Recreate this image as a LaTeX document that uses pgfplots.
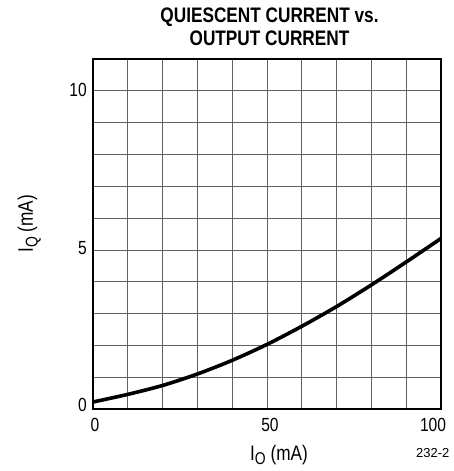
\documentclass[border=0pt]{standalone}
\usepackage{fontspec}
\setmainfont[FakeStretch=0.82]{Liberation Sans}
\newfontfamily\plainfont{Liberation Sans}
\usepackage{pgfplots}
\pgfplotsset{compat=1.18}

\newcommand{\sub}[1]{\raisebox{-0.42ex}{\fontsize{17}{19}\selectfont #1}}

\begin{document}
\begin{tikzpicture}[tick/.style={inner sep=0, font=\fontsize{19}{22}\selectfont}]
\begin{axis}[
    scale only axis,
    width=348pt, height=350pt,
    xmin=0, xmax=100, ymin=0, ymax=11,
    xtick={0,50,100}, ytick={0,5,10},
    xticklabels={}, yticklabels={},
    minor xtick={10,20,30,40,60,70,80,90},
    minor ytick={1,2,3,4,6,7,8,9},
    grid=both,
    major grid style={line width=0.8pt, draw=black!62},
    minor grid style={line width=0.8pt, draw=black!62},
    major tick length=0pt, minor tick length=0pt,
    axis line style={line width=2.6pt},
    clip=false,
]
\addplot[black, line width=3.6pt, smooth] coordinates {
    (0,0.22) (10,0.46) (20,0.74) (30,1.10) (40,1.53) (50,2.03)
    (60,2.60) (70,3.22) (80,3.90) (90,4.62) (100,5.36)
};
% x tick labels
\node[tick, anchor=north] at ([xshift=2pt, yshift=-9pt]axis cs:0,0) {0};
\node[tick, anchor=north] at ([xshift=3pt, yshift=-9pt]axis cs:50,0) {50};
\node[tick, anchor=north] at ([xshift=-8pt, yshift=-9pt]axis cs:100,0) {100};
% y tick labels
\node[tick, anchor=east] at ([xshift=-6pt, yshift=4pt]axis cs:0,0) {0};
\node[tick, anchor=east] at ([xshift=-6pt, yshift=2pt]axis cs:0,5) {5};
\node[tick, anchor=east] at ([xshift=-6pt, yshift=1pt]axis cs:0,10) {10};
% axis labels
\node[anchor=base, inner sep=0, font=\fontsize{21}{24}\selectfont]
    at ([xshift=12pt, yshift=-51pt]rel axis cs:0.5,0) {I\sub{O} (mA)};
\node[rotate=90, anchor=base, inner sep=0, font=\fontsize{21}{24}\selectfont]
    at ([xshift=-60pt]rel axis cs:0,0.529) {I\sub{Q} (mA)};
% title
\node[anchor=base, inner sep=0, font=\bfseries\fontsize{21}{24}\selectfont]
    at ([xshift=2.5pt, yshift=36pt]rel axis cs:0.5,1) {QUIESCENT CURRENT vs.};
\node[anchor=base, inner sep=0, font=\bfseries\fontsize{21}{24}\selectfont]
    at ([xshift=2.5pt, yshift=13.5pt]rel axis cs:0.5,1) {OUTPUT CURRENT};
% figure number
\node[anchor=base west, inner sep=0, font=\plainfont\fontsize{13}{15}\selectfont]
    at ([xshift=-25pt, yshift=-48pt]rel axis cs:1,0) {232-2};
\end{axis}
\pgfresetboundingbox
\path[use as bounding box]
    ([xshift=-93pt, yshift=-62pt]current axis.south west)
    rectangle ([xshift=12pt, yshift=59pt]current axis.north east);
\end{tikzpicture}
\end{document}
